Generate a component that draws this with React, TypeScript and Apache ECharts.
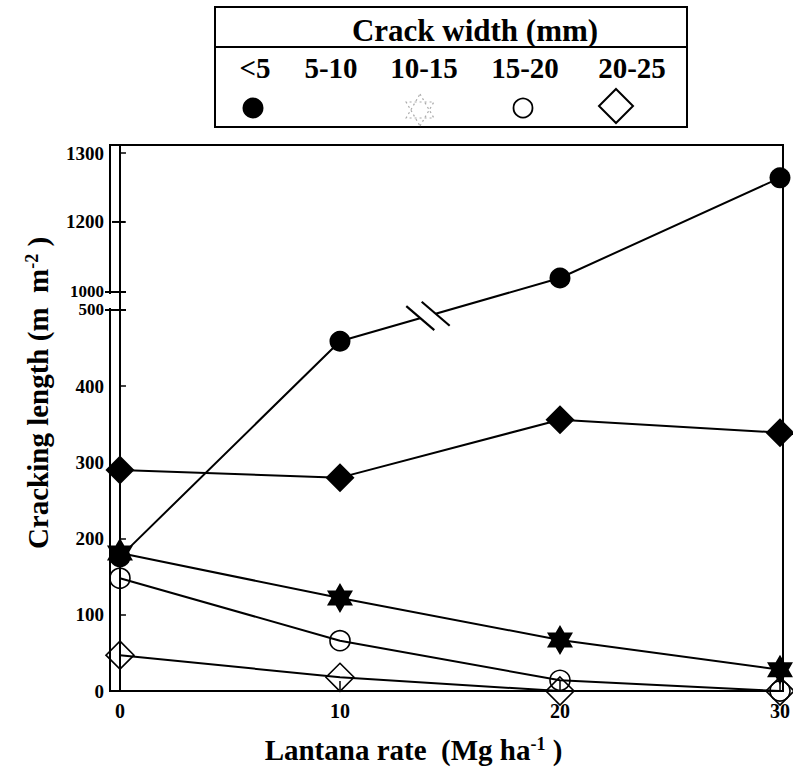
import React, { useEffect, useRef } from "react";
import * as echarts from "echarts";

// ---------- data ----------
const xValues = [0, 10, 20, 30];
const seriesNames = ["<5", "5-10", "10-15", "15-20", "20-25"];
const widthLt5 = [176, 459, 1040, 1264];
const width5to10 = [290, 280, 356, 339];
const width10to15 = [181, 122, 67, 28];
const width15to20 = [148, 66, 14, 0];
const width20to25 = [47, 18, 0, 0];
const xTickLabels = [0, 10, 20, 30];
const yTickLabels = [0, 100, 200, 300, 400, 500, 1000, 1200, 1300];

// ---------- broken y axis (0-500 | 1000-1300) ----------
const BREAK_LOW = 500;
const BREAK_HIGH = 1000;
// display positions of the upper section ticks (scale of the original figure)
const upperAnchors: [number, number][] = [
  [1000, 523.6],
  [1200, 615.5],
  [1300, 706],
];
const Y_DISPLAY_MAX = 716.5;

function toDisplay(v: number): number {
  if (v <= BREAK_LOW) return v;
  for (let i = 0; i < upperAnchors.length - 1; i++) {
    const [v0, d0] = upperAnchors[i];
    const [v1, d1] = upperAnchors[i + 1];
    if (v <= v1 || i === upperAnchors.length - 2) {
      return d0 + ((v - v0) / (v1 - v0)) * (d1 - d0);
    }
  }
  return v;
}

const yDisplayTicks = yTickLabels.map(toDisplay);

const FONT = "Liberation Serif";
const STAR =
  "path://M0,-10L2.887,-5L8.66,-5L5.774,0L8.66,5L2.887,5L0,10L-2.887,5L-8.66,5L-5.774,0L-8.66,-5L-2.887,-5Z";

const toPoints = (vals: number[]) => xValues.map((x, i) => [x, toDisplay(vals[i])]);

export default function App() {
  const ref = useRef<HTMLDivElement>(null);

  useEffect(() => {
    document.body.style.margin = "0";
    const chart = echarts.init(ref.current!, null, { renderer: "svg" });

    const lineStyle = { color: "#000", width: 2 };
    const hollow = { color: "rgba(0,0,0,0)", borderColor: "#000", borderWidth: 1.6 };
    const filled = { color: "#000" };

    const option: any = {
      animation: false,
      backgroundColor: "#fff",
      grid: {
        left: 110,
        right: 8,
        top: 145,
        bottom: 87,
        show: true,
        borderColor: "#000",
        borderWidth: 2,
        backgroundColor: "transparent",
      },
      xAxis: {
        type: "value",
        min: -0.453,
        max: 30.136,
        name: "Lantana rate  (Mg ha{sup|-1} )",
        nameLocation: "middle",
        nameGap: 44,
        nameTextStyle: {
          fontFamily: FONT,
          fontWeight: "bold",
          fontSize: 29,
          color: "#000",
          padding: [0, 66, 0, 0],
          rich: {
            sup: { fontFamily: FONT, fontWeight: "bold", fontSize: 18, verticalAlign: "top", color: "#000" },
          },
        },
        axisLine: { lineStyle: { color: "#000", width: 2 } },
        axisTick: { inside: true, length: 10, customValues: xTickLabels, lineStyle: { color: "#000", width: 1.5 } },
        axisLabel: {
          customValues: xTickLabels,
          fontFamily: FONT,
          fontWeight: "bold",
          fontSize: 20,
          color: "#000",
          margin: 10,
        },
        splitLine: { show: false },
      },
      yAxis: {
        type: "value",
        min: 0,
        max: Y_DISPLAY_MAX,
        name: "Cracking length (m  m{sup|-2} )",
        nameLocation: "middle",
        nameRotate: 90,
        nameGap: 58,
        nameTextStyle: {
          fontFamily: FONT,
          fontWeight: "bold",
          fontSize: 29,
          color: "#000",
          padding: [0, 0, 0, 50],
          rich: {
            sup: { fontFamily: FONT, fontWeight: "bold", fontSize: 18, verticalAlign: "top", color: "#000" },
          },
        },
        axisLine: { lineStyle: { color: "#000", width: 2 } },
        axisTick: { inside: true, length: 6, customValues: yDisplayTicks, lineStyle: { color: "#000", width: 1.5 } },
        axisLabel: {
          customValues: yDisplayTicks,
          fontFamily: FONT,
          fontWeight: "bold",
          fontSize: 19,
          color: "#000",
          margin: 6,
          formatter: (val: number) => {
            const idx = yDisplayTicks.findIndex((d) => Math.abs(d - val) < 0.05);
            if (idx < 0) return "";
            const lab = yTickLabels[idx];
            if (lab === BREAK_LOW || lab === BREAK_HIGH) return "{brk|" + lab + "}";
            return String(lab);
          },
          rich: {
            brk: { fontFamily: FONT, fontWeight: "bold", fontSize: 17, lineHeight: 16, color: "#000" },
          },
        },
        splitLine: { show: false },
      },
      series: [
        {
          name: seriesNames[0],
          type: "line",
          data: toPoints(widthLt5),
          symbol: "circle",
          symbolSize: 21,
          itemStyle: filled,
          lineStyle,
          clip: false,
          z: 3,
        },
        {
          name: seriesNames[1],
          type: "line",
          data: toPoints(width5to10),
          symbol: "diamond",
          symbolSize: 29,
          itemStyle: filled,
          lineStyle,
          clip: false,
          z: 3,
        },
        {
          name: seriesNames[2],
          type: "line",
          data: toPoints(width10to15),
          symbol: STAR,
          symbolKeepAspect: true,
          symbolSize: 30,
          itemStyle: filled,
          lineStyle,
          clip: false,
          z: 3,
        },
        {
          name: seriesNames[3],
          type: "line",
          data: toPoints(width15to20),
          symbol: "circle",
          symbolSize: 20,
          itemStyle: hollow,
          lineStyle,
          clip: false,
          z: 3,
        },
        {
          name: seriesNames[4],
          type: "line",
          data: toPoints(width20to25),
          symbol: "diamond",
          symbolSize: 28,
          itemStyle: hollow,
          lineStyle,
          clip: false,
          z: 3,
        },
      ],
    };

    chart.setOption(option);

    // ---------- overlay: legend box, axis break marks ----------
    const px = (x: number, v: number) => chart.convertToPixel({ gridIndex: 0 }, [x, toDisplay(v)]) as number[];

    const els: any[] = [];
    const textStyle = (text: string, size: number) => ({
      text,
      fontFamily: FONT,
      fontWeight: "bold",
      fontSize: size,
      fill: "#000",
      align: "center",
      verticalAlign: "middle",
    });

    // legend box
    els.push({ type: "rect", shape: { x: 215, y: 7, width: 472, height: 120 }, style: { fill: "#fff", stroke: "#000", lineWidth: 2 }, z: 50 });
    els.push({ type: "line", shape: { x1: 215, y1: 47, x2: 687, y2: 47 }, style: { stroke: "#000", lineWidth: 2 }, z: 51 });
    els.push({ type: "text", x: 475, y: 30, style: textStyle("Crack width (mm)", 31), z: 51 });
    const legendX = [255, 331, 424, 525, 632];
    seriesNames.forEach((n, i) => {
      els.push({ type: "text", x: legendX[i], y: 68, style: textStyle(n, 29), z: 51 });
    });
    // legend symbols
    els.push({ type: "circle", shape: { cx: 253, cy: 108, r: 10.5 }, style: { fill: "#000" }, z: 51 });
    const starR = 16;
    const tri = (cx: number, cy: number, r: number, up: boolean) => {
      const s = up ? -1 : 1;
      return [
        [cx, cy + s * r],
        [cx + r * 0.866, cy - s * r * 0.5],
        [cx - r * 0.866, cy - s * r * 0.5],
      ];
    };
    els.push({ type: "polygon", shape: { points: tri(420, 110, starR, true) }, style: { fill: "none", stroke: "#aaa", lineWidth: 1.2, lineDash: [2, 3] }, z: 51 });
    els.push({ type: "polygon", shape: { points: tri(420, 110, starR, false) }, style: { fill: "none", stroke: "#aaa", lineWidth: 1.2, lineDash: [2, 3] }, z: 51 });
    els.push({ type: "circle", shape: { cx: 523, cy: 108, r: 9.5 }, style: { fill: "none", stroke: "#000", lineWidth: 1.8 }, z: 51 });
    els.push({
      type: "polygon",
      shape: { points: [[616, 89], [633, 106], [616, 123], [599, 106]] },
      style: { fill: "none", stroke: "#000", lineWidth: 2 },
      z: 51,
    });

    // y axis break gap
    const p500 = px(0, BREAK_LOW);
    const p1000 = px(0, BREAK_HIGH);
    const axisX = 110;
    els.push({ type: "rect", shape: { x: axisX - 3, y: p1000[1] + 2, width: 6, height: p500[1] - p1000[1] - 4 }, style: { fill: "#fff" }, z: 60 });
    [p500[1], p1000[1]].forEach((yy) => {
      els.push({ type: "line", shape: { x1: axisX - 5, y1: yy, x2: axisX + 16, y2: yy }, style: { stroke: "#000", lineWidth: 2 }, z: 61 });
    });
    const p1200 = px(0, 1200);
    els.push({ type: "line", shape: { x1: axisX + 2, y1: p1200[1], x2: axisX + 15, y2: p1200[1] }, style: { stroke: "#000", lineWidth: 2 }, z: 61 });

    // break mark on the <5 line between 10 and 20
    const a = px(xValues[1], widthLt5[1]);
    const b = px(xValues[2], widthLt5[2]);
    const t = 0.4;
    const mx = a[0] + (b[0] - a[0]) * t;
    const my = a[1] + (b[1] - a[1]) * t;
    const len = Math.hypot(b[0] - a[0], b[1] - a[1]);
    const ux = (b[0] - a[0]) / len;
    const uy = (b[1] - a[1]) / len;
    const gap = 8;
    els.push({
      type: "line",
      shape: { x1: mx - ux * gap, y1: my - uy * gap, x2: mx + ux * gap, y2: my + uy * gap },
      style: { stroke: "#fff", lineWidth: 5 },
      z: 62,
    });
    const dx = 14, dy = 12;
    [-1, 1].forEach((k) => {
      const cx = mx + ux * gap * k;
      const cy = my + uy * gap * k;
      els.push({ type: "line", shape: { x1: cx - dx, y1: cy - dy, x2: cx + dx, y2: cy + dy }, style: { stroke: "#000", lineWidth: 2.2 }, z: 63 });
    });

    chart.setOption({ graphic: { elements: els } });

    return () => chart.dispose();
  }, []);

  return <div ref={ref} style={{ position: "absolute", left: 0, top: 0, width: 793, height: 778 }} />;
}
